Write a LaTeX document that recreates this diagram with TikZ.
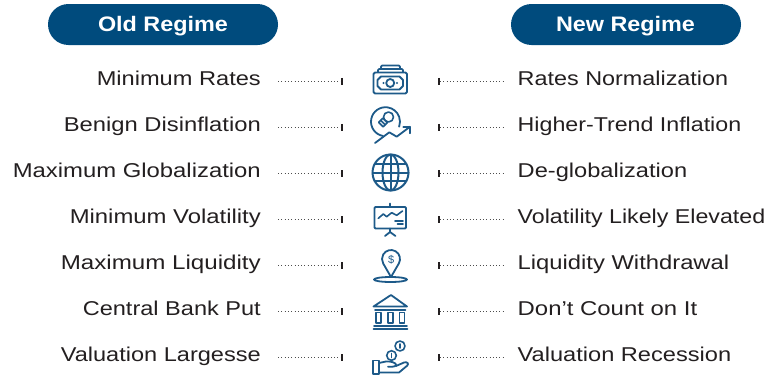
\documentclass[tikz,border=0pt]{standalone}
\usepackage{graphicx}
\usepackage{fontspec}
\setmainfont{Liberation Sans}
\usetikzlibrary{calc}
\definecolor{pillblue}{HTML}{004B7D}
\definecolor{iconblue}{HTML}{1D5A89}
\definecolor{txt}{HTML}{231F20}
\definecolor{dotgray}{HTML}{4D4D4D}
\newcommand\fitw[2]{\resizebox{#1pt}{\height}{#2}}
\begin{document}
\begin{tikzpicture}[x=1pt,y=-1pt,
  pill/.style={fill=pillblue, rounded corners=20.5pt, minimum width=230pt, minimum height=41pt, inner sep=0pt},
  pilltext/.style={text=white, font=\bfseries\fontsize{21}{24}\selectfont, inner sep=0pt, anchor=base},
  lefttext/.style={text=txt, font=\fontsize{20}{23}\selectfont, inner sep=0pt, anchor=base east},
  righttext/.style={text=txt, font=\fontsize{20}{23}\selectfont, inner sep=0pt, anchor=base west},
  dotline/.style={draw=dotgray, line width=1pt, dash pattern=on 0.9pt off 2.4pt},
  tickmark/.style={draw=txt, line width=2.2pt},
  icon/.style={draw=iconblue, line width=1.8pt, line cap=round, line join=round}
]
\useasboundingbox (0,0) rectangle (773,375);

% pills
\node[pill] (oldpill) at (163,24.5) {};
\node[pilltext] (oldtxt) at (163,31.8) {\fitw{130}{Old Regime}};
\node[pill] (newpill) at (626,24.5) {};
\node[pilltext] (newtxt) at (625.5,31.8) {\fitw{139}{New Regime}};

% rows
\foreach \i/\lw/\l/\rw/\r in {0/164/Minimum Rates/210.5/Rates Normalization,
  1/197/Benign Disinflation/223.5/Higher-Trend Inflation,
  2/248/Maximum Globalization/169.5/De-globalization,
  3/191/Minimum Volatility/247.5/Volatility Likely Elevated,
  4/200/Maximum Liquidity/211.5/Liquidity Withdrawal,
  5/178/Central Bank Put/179.5/Don’t Count on It,
  6/200/Valuation Largesse/213.5/Valuation Recession}{
  \pgfmathsetmacro{\bl}{85+46.05*\i}
  \pgfmathsetmacro{\ly}{81.5+46.05*\i}
  \node[lefttext] (L\i) at (261,\bl) {\fitw{\lw}{\l}};
  \node[righttext] (R\i) at (517.5,\bl) {\fitw{\rw}{\r}};
  \coordinate (la\i) at (278,\ly);
  \coordinate (lb\i) at (341,\ly);
  \coordinate (ra\i) at (440,\ly);
  \coordinate (rb\i) at (505,\ly);
  \draw[dotline] (la\i) -- (lb\i);
  \draw[dotline] (ra\i) -- (rb\i);
  \draw[tickmark] ($(lb\i)+(1.1,-3.6)$) -- ($(lb\i)+(1.1,3.6)$);
  \draw[tickmark] ($(ra\i)+(-1.1,-3.6)$) -- ($(ra\i)+(-1.1,3.6)$);
}

% icon 1: money
\draw[icon,rounded corners=1.2pt] (381,69) |- (400,65.5) -- (400,69);
\draw[icon,rounded corners=1.2pt] (378,72) |- (403,69) -- (403,72);
\draw[icon,rounded corners=1.5pt] (373.5,72.5) rectangle (407,93.5);
\draw[icon] (381,76.5) -- (399.5,76.5) -- (403,80) -- (403,86) -- (399.5,89.5) -- (381,89.5) -- (377.5,86) -- (377.5,80) -- cycle;
\draw[icon] (390.2,83) circle[radius=4];
\fill[iconblue] (383.5,83) circle[radius=1.1] (397,83) circle[radius=1.1];

% icon 2: bulb + arrow
\coordinate (bc) at (385.5,121.7);
\draw[icon] ($(bc)+(100:14.5)$) arc[start angle=100,end angle=380,radius=14.5];
\draw[icon] (375,143) -- (389.3,132.3) -- (396.7,136.7) -- (410,126.7);
\draw[icon] (403.3,126.7) -- (410,126.7) -- (410,133.3);
\begin{scope}[shift={(388.5,117)},rotate=-135]
  \draw[icon,line width=1.6pt] (0,0) circle[radius=5];
  \draw[icon,line width=1.6pt,fill=iconblue!15] (4.8,-3.2) rectangle (10.8,3.2);
  \draw[icon,line width=1.4pt] (7.8,-3.2) -- (7.8,3.2);
\end{scope}

% icon 3: globe
\coordinate (gc) at (390.5,172.5);
\draw[icon,line width=2pt] (gc) circle[radius=18];
\draw[icon,line width=2pt] (gc) ellipse[x radius=8,y radius=18];
\draw[icon,line width=2pt] (390.5,154.5) -- (390.5,190.5);
\draw[icon,line width=2pt] (374.6,164) -- (406.4,164);
\draw[icon,line width=2pt] (372.5,172.5) -- (408.5,172.5);
\draw[icon,line width=2pt] (374.6,181) -- (406.4,181);

% icon 4: board
\draw[icon] (390,203.5) -- (390,207);
\draw[icon,rounded corners=1pt] (374.5,207) rectangle (406,228.5);
\draw[icon] (390,228.5) -- (390,232);
\draw[icon] (385,236) -- (390,232) -- (395.5,236);
\draw[icon,line width=1.6pt] (378.3,218.3) -- (383.3,214) -- (386.7,216.7) -- (391.7,212.7) -- (396.7,215.3) -- (402.5,211);
\draw[icon,line width=1.6pt] (395,221) -- (403,221);
\draw[icon,line width=1.6pt] (397.5,223.8) -- (403,223.8);

% icon 5: pin
\coordinate (pc) at (391,259);
\draw[icon] (391,277) -- ($(pc)+(30:9)$) arc[start angle=30,end angle=-210,radius=9] -- cycle;
\node[text=iconblue, font=\fontsize{11}{12}\selectfont, inner sep=0pt] (dollar) at (391.3,259.5) {\$};
\draw[icon] (390.5,279.5) ellipse[x radius=16.5,y radius=2.5];

% icon 6: bank
\draw[icon] (373.5,306.5) -- (391,295) -- (407,306.5) -- cycle;
\draw[icon] (375,310) -- (405.5,310);
\foreach \cx in {378.5,390.5,402}{
  \draw[icon,line width=1.6pt] (\cx-2.4,312.5) rectangle (\cx+2.4,323);
}
\draw[icon] (374,325.8) -- (407,325.8);
\draw[icon] (373.5,328.8) -- (407.5,328.8);

% icon 7: hand + coins
\draw[icon,line width=1.6pt] (400,346) circle[radius=5];
\draw[icon,line width=1.6pt] (400,344) -- (400,348);
\draw[icon,line width=1.6pt] (391.5,355.5) circle[radius=4.8];
\draw[icon,line width=1.6pt] (391.5,353.5) -- (391.5,357.5);
\draw[icon] (372.8,360.5) rectangle (379,374.3);
\draw[icon] (379,363) -- (386,361.5) .. controls (390,361) and (395.5,362.5) .. (396,364.5) .. controls (396.3,366.5) and (393,367) .. (388,366.8);
\draw[icon] (396,366) -- (404,362.5) .. controls (407,361.5) and (409.5,363.5) .. (407,365.8) -- (399,372.5) -- (379,372.5);
\end{tikzpicture}
\end{document}
